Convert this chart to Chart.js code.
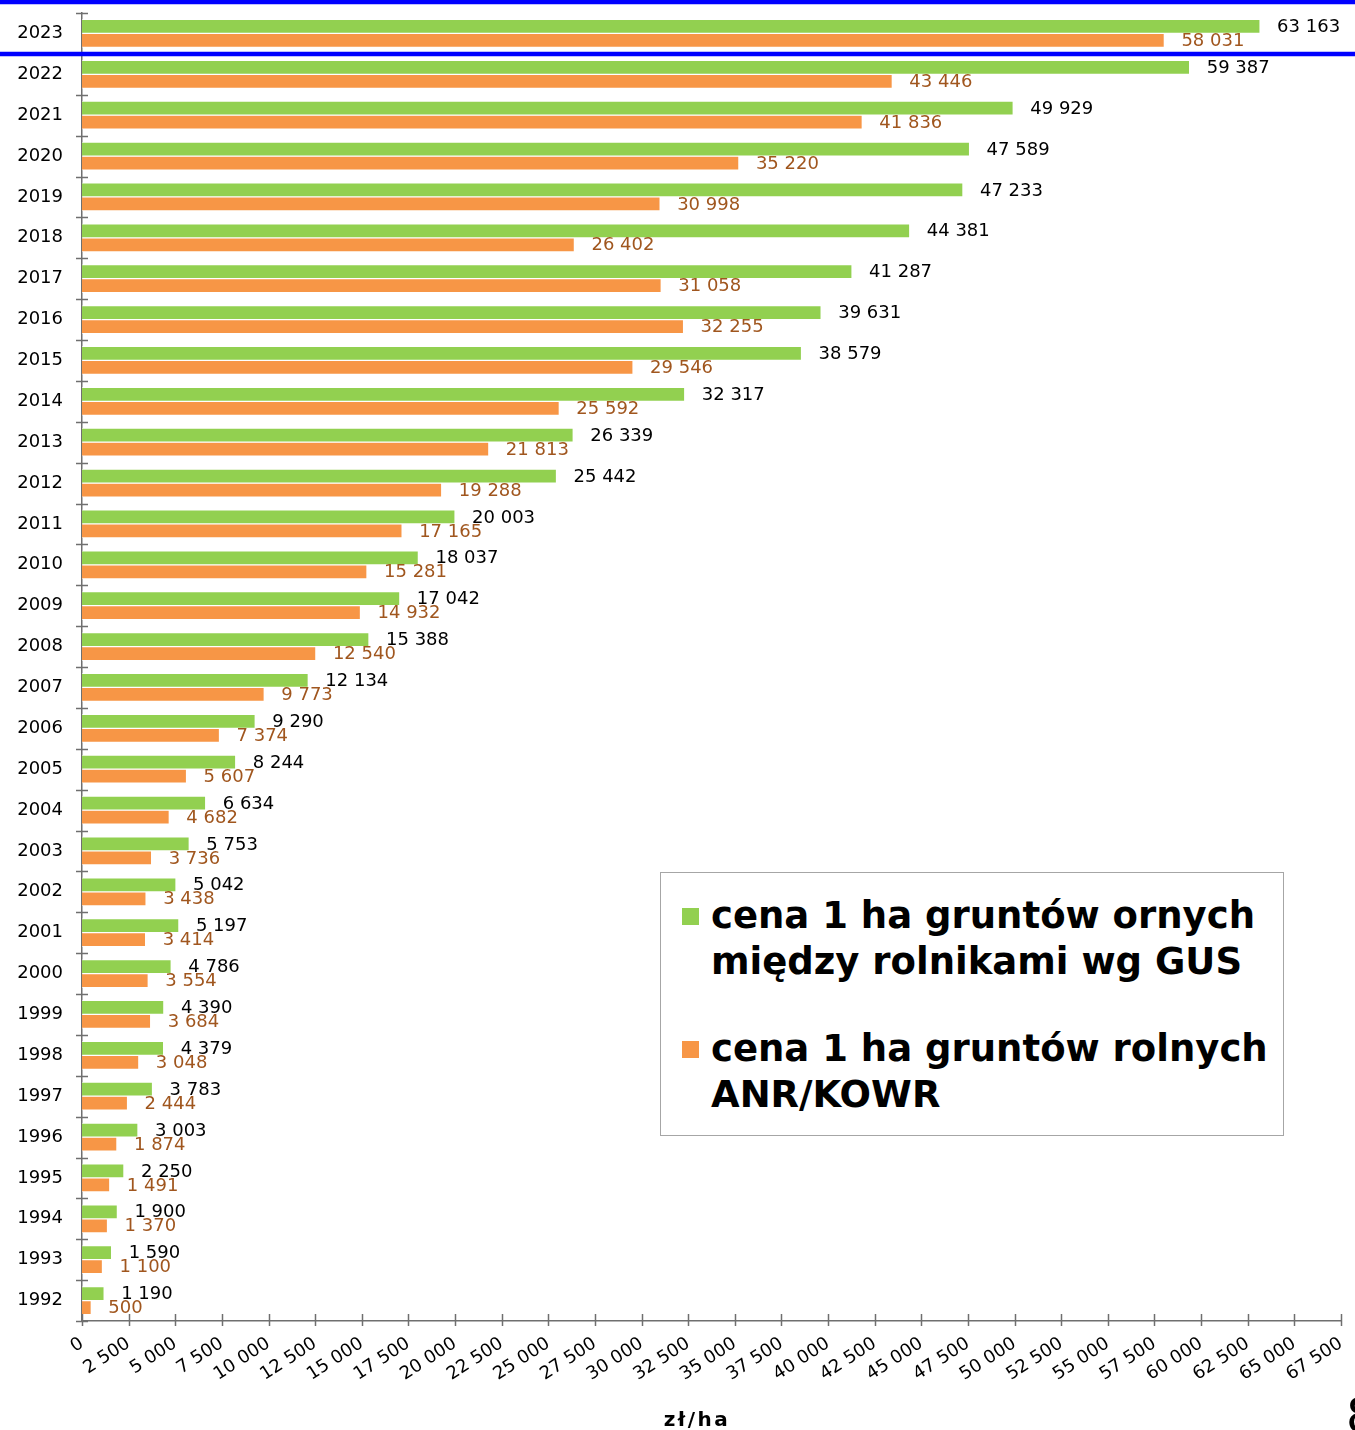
<!DOCTYPE html>
<html>
<head>
<meta charset="utf-8">
<script src="https://cdn.jsdelivr.net/npm/chart.js@4.4.1/dist/chart.umd.min.js"></script>
<style>
    body { margin: 0; overflow: hidden; background: #fff; font-family: "DejaVu Sans", sans-serif; }
    #wrap { position: relative; width: 1355px; height: 1430px; overflow: hidden; }
    #myChart { position: absolute; left: 0; top: 0; }
    .legend-box { position: absolute; left: 660px; top: 872px; width: 622px; height: 262px; border: 1px solid #a6a6a6; background: #fff; }
    .legend-item { position: absolute; left: 50px; font-weight: bold; font-size: 37px; line-height: 46px; color: #000; white-space: nowrap; }
    .itemMaker { position: absolute; left: -29px; top: 15px; width: 17px; height: 17px; }
    .page-no { position: absolute; left: 1346px; top: 1391px; font-size: 48px; line-height: 48px; color: #000; }
</style>
</head>
<body>
<div id="wrap">
    <canvas id="myChart" width="1355" height="1430"></canvas>
    <div class="legend-box" id="legend"></div>
    <div class="page-no">8</div>
</div>
<script>
const years = ['2023', '2022', '2021', '2020', '2019', '2018', '2017', '2016', '2015', '2014', '2013',
    '2012', '2011', '2010', '2009', '2008', '2007', '2006', '2005', '2004', '2003', '2002', '2001',
    '2000', '1999', '1998', '1997', '1996', '1995', '1994', '1993', '1992'];
const gusPrices = [63163, 59387, 49929, 47589, 47233, 44381, 41287, 39631, 38579, 32317, 26339,
    25442, 20003, 18037, 17042, 15388, 12134, 9290, 8244, 6634, 5753, 5042, 5197,
    4786, 4390, 4379, 3783, 3003, 2250, 1900, 1590, 1190];
const kowrPrices = [58031, 43446, 41836, 35220, 30998, 26402, 31058, 32255, 29546, 25592, 21813,
    19288, 17165, 15281, 14932, 12540, 9773, 7374, 5607, 4682, 3736, 3438, 3414,
    3554, 3684, 3048, 2444, 1874, 1491, 1370, 1100, 500];
const seriesNames = [
    ['cena 1 ha gruntów ornych', 'między rolnikami wg GUS'],
    ['cena 1 ha gruntów rolnych', 'ANR/KOWR']
];
const seriesColors = ['#92d050', '#f79646'];
const labelColors = ['#000000', '#a0561e'];
const axisTitle = 'zł/ha';

function formatNumber(val) {
    return String(val).replace(/\B(?=(\d{3})+(?!\d))/g, ' ');
}

// value labels next to bars, blue slide lines, crossing tick marks, axis title
const decorations = {
    id: 'decorations',
    afterDatasetsDraw(chart) {
        const ctx = chart.ctx;
        ctx.save();
        ctx.font = '18px "DejaVu Sans"';
        ctx.textBaseline = 'middle';
        ctx.textAlign = 'left';
        chart.data.datasets.forEach((ds, i) => {
            const meta = chart.getDatasetMeta(i);
            ctx.fillStyle = labelColors[i];
            meta.data.forEach((bar, j) => {
                ctx.fillText(formatNumber(ds.data[j]), bar.x + 17, bar.y + 1);
            });
        });
        ctx.restore();
    },
    afterDraw(chart) {
        const ctx = chart.ctx;
        const xs = chart.scales.x;
        const ys = chart.scales.y;
        ctx.save();
        ctx.strokeStyle = '#6f6f6f';
        ctx.lineWidth = 1.5;
        // x ticks
        xs.ticks.forEach(t => {
            const x = Math.round(xs.getPixelForValue(t.value)) + 0.5;
            ctx.beginPath();
            ctx.moveTo(x, ys.bottom - 7);
            ctx.lineTo(x, ys.bottom + 5);
            ctx.stroke();
        });
        // y ticks at category boundaries
        const n = years.length;
        const band = (ys.bottom - ys.top) / n;
        for (let i = 0; i <= n; i++) {
            const y = Math.round(ys.top + i * band) + 0.5;
            ctx.beginPath();
            ctx.moveTo(xs.left - 6, y);
            ctx.lineTo(xs.left + 6, y);
            ctx.stroke();
        }
        // axis title
        ctx.fillStyle = '#000';
        ctx.font = 'bold 20px "DejaVu Sans"';
        ctx.letterSpacing = '2.5px';
        ctx.textAlign = 'center';
        ctx.textBaseline = 'alphabetic';
        ctx.fillText(axisTitle, 697, 1426);
        ctx.letterSpacing = '0px';
        // blue lines of the slide
        ctx.strokeStyle = '#0000ff';
        ctx.lineWidth = 4.5;
        ctx.beginPath();
        ctx.moveTo(0, 2);
        ctx.lineTo(chart.width, 2);
        ctx.stroke();
        const yLine = (ys.getPixelForValue(0) + ys.getPixelForValue(1)) / 2;
        ctx.beginPath();
        ctx.moveTo(0, yLine);
        ctx.lineTo(chart.width, yLine);
        ctx.stroke();
        ctx.restore();
    }
};

function generateCustomLegend() {
    const legendContainer = document.getElementById('legend');
    legendContainer.innerHTML = '';
    const tops = [20, 153];
    seriesNames.forEach((lines, i) => {
        const item = document.createElement('div');
        item.className = 'legend-item';
        item.style.top = tops[i] + 'px';
        const bullet = document.createElement('span');
        bullet.className = 'itemMaker';
        bullet.style.backgroundColor = seriesColors[i];
        item.appendChild(bullet);
        lines.forEach((line, k) => {
            if (k > 0) item.appendChild(document.createElement('br'));
            item.appendChild(document.createTextNode(line));
        });
        legendContainer.appendChild(item);
    });
}

const datasets = [gusPrices, kowrPrices].map((values, i) => ({
    label: seriesNames[i].join(' '),
    data: values,
    backgroundColor: seriesColors[i],
    borderColor: 'rgba(255,255,255,0.6)',
    borderWidth: 1,
    borderSkipped: 'start',
    barThickness: 14
}));

const ctx = document.getElementById('myChart');
const myChart = new Chart(ctx, {
    type: 'bar',
    data: { labels: years, datasets: datasets },
    options: {
        indexAxis: 'y',
        responsive: false,
        animation: false,
        devicePixelRatio: 1,
        layout: { padding: { top: 13, right: 14, left: 0, bottom: 0 } },
        plugins: {
            legend: { display: false },
            tooltip: { enabled: false }
        },
        scales: {
            x: {
                min: 0,
                max: 67500,
                afterFit: (scale) => {
                    scale.height = 109;
                    scale.paddingLeft = 0;
                    scale.paddingRight = 0;
                },
                grid: { display: false, drawTicks: false, tickLength: 0 },
                border: { display: true, color: '#6f6f6f', width: 1.5 },
                ticks: {
                    stepSize: 2500,
                    autoSkip: false,
                    minRotation: 33,
                    maxRotation: 33,
                    padding: 12,
                    color: '#000',
                    font: { family: 'DejaVu Sans', size: 18 },
                    callback: (val) => formatNumber(val)
                }
            },
            y: {
                afterFit: (scale) => {
                    scale.width = 82;
                    scale.paddingTop = 0;
                    scale.paddingBottom = 0;
                },
                grid: { display: false, drawTicks: false, tickLength: 0 },
                border: { display: true, color: '#6f6f6f', width: 1.5 },
                ticks: {
                    padding: 19,
                    color: '#000',
                    font: { family: 'DejaVu Sans', size: 18 }
                }
            }
        }
    },
    plugins: [decorations]
});
generateCustomLegend();
</script>
</body>
</html>
